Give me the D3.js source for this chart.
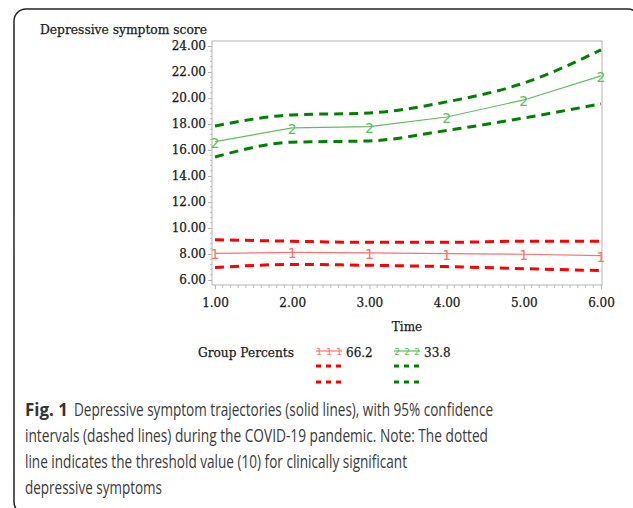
<!DOCTYPE html>
<html>
<head>
<meta charset="utf-8">
<script src="https://cdn.jsdelivr.net/npm/d3@7"></script>
<style>
  html, body { margin: 0; padding: 0; background: #fff; }
  svg { display: block; }
</style>
</head>
<body>
<svg id="chart" width="633" height="508"></svg>
<script>
// ---- Data ----
const time = [1, 2, 3, 4, 5, 6];
const xTicks = [1, 2, 3, 4, 5, 6];
const yTicks = [6, 8, 10, 12, 14, 16, 18, 20, 22, 24];
const group1 = [8.05, 8.13, 8.08, 8.03, 7.98, 7.87];
const group1Upper = [9.1, 8.98, 8.9, 8.9, 8.98, 8.98];
const group1Lower = [6.95, 7.2, 7.13, 7.03, 6.87, 6.72];
const group2 = [16.64, 17.7, 17.8, 18.54, 19.85, 21.7];
const group2Upper = [17.85, 18.7, 18.85, 19.7, 21.15, 23.7];
const group2Lower = [15.46, 16.6, 16.7, 17.5, 18.46, 19.55];
const groupLabels = ["1", "2"];
const groupPercents = ["66.2", "33.8"];
const yTitle = "Depressive symptom score";
const xTitle = "Time";
const legendTitle = "Group Percents";
const captionBold = "Fig. 1";
const captionLines = [
  "Depressive symptom trajectories (solid lines), with 95% confidence",
  "intervals (dashed lines) during the COVID-19 pandemic. Note: The dotted",
  "line indicates the threshold value (10) for clinically significant",
  "depressive symptoms"
];

const svg = d3.select("#chart");
const serif = "'DejaVu Serif', 'Liberation Serif', serif";
const sans = "'Open Sans', 'Noto Sans', sans-serif";
const ink = "#1a1a1a";

// Outer frame
svg.append("rect")
  .attr("x", 14).attr("y", 9).attr("width", 626).attr("height", 505)
  .attr("rx", 12).attr("ry", 12)
  .attr("fill", "none").attr("stroke", "#222").attr("stroke-width", 1.5);

// Scales
const x = d3.scaleLinear().domain([1, 6]).range([215, 601]);
const y = d3.scaleLinear().domain([6, 24]).range([280, 46]);

const axisColor = "#b4b4b4";

function serifText(sel, size) {
  return sel.attr("font-family", serif).attr("font-size", size || 12)
    .attr("fill", ink).attr("stroke", ink).attr("stroke-width", 0.25);
}

// Plot frame
const fx0 = 212, fx1 = 602, fy0 = 41, fy1 = 285;
svg.append("rect")
  .attr("x", fx0).attr("y", fy0).attr("width", fx1 - fx0).attr("height", fy1 - fy0)
  .attr("fill", "none").attr("stroke", axisColor).attr("stroke-width", 1);

// Y axis
const yAxis = d3.axisLeft(y).tickValues(yTicks).tickFormat(d3.format(".2f")).tickSize(4).tickPadding(2);
const gy = svg.append("g").attr("transform", `translate(${fx0},0)`).call(yAxis);
gy.select(".domain").remove();
gy.selectAll(".tick line").attr("stroke", axisColor);
serifText(gy.selectAll(".tick text"), 12);
// minor y ticks
const yMinor = d3.range(6, 24.001, 0.4).filter(v => Math.abs(v / 2 - Math.round(v / 2)) > 1e-6);
svg.append("g").selectAll("line").data(yMinor).join("line")
  .attr("x1", fx0 - 2).attr("x2", fx0).attr("y1", d => y(d)).attr("y2", d => y(d))
  .attr("stroke", axisColor).attr("stroke-width", 0.8);

// X axis
const xAxis = d3.axisBottom(x).tickValues(xTicks).tickFormat(d3.format(".2f")).tickSize(4).tickPadding(9);
const gx = svg.append("g").attr("transform", `translate(0,${fy1})`).call(xAxis);
gx.select(".domain").remove();
gx.selectAll(".tick line").attr("stroke", axisColor);
serifText(gx.selectAll(".tick text"), 12);
const xMinor = d3.range(1, 6.001, 0.1).filter(v => Math.abs(v - Math.round(v)) > 1e-6);
svg.append("g").selectAll("line").data(xMinor).join("line")
  .attr("x1", d => x(d)).attr("x2", d => x(d)).attr("y1", fy1).attr("y2", fy1 + 3)
  .attr("stroke", axisColor).attr("stroke-width", 0.8);

// Titles
serifText(svg.append("text").attr("x", 40).attr("y", 34).text(yTitle), 12)
  .attr("textLength", 167).attr("lengthAdjust", "spacingAndGlyphs");
serifText(svg.append("text").attr("x", 407).attr("y", 331).attr("text-anchor", "middle").text(xTitle), 12);

// Lines
const line = d3.line().x((d, i) => x(time[i])).y(d => y(d));
const dashLine = d3.line().x((d, i) => x(time[i])).y(d => y(d)).curve(d3.curveMonotoneX);

const red = "#ff0000", redLight = "#ff6f6f";
const green = "#008000", greenLight = "#5cbf5c";

function dashed(data, color) {
  svg.append("path").attr("d", dashLine(data)).attr("fill", "none")
    .attr("stroke", color).attr("stroke-width", 3).attr("stroke-dasharray", "9,6");
}
dashed(group1Upper, red);
dashed(group1Lower, red);
dashed(group2Upper, green);
dashed(group2Lower, green);

svg.append("path").attr("d", line(group1)).attr("fill", "none").attr("stroke", redLight).attr("stroke-width", 1.2);
svg.append("path").attr("d", line(group2)).attr("fill", "none").attr("stroke", greenLight).attr("stroke-width", 1.2);

// Point labels
function marks(data, label, color) {
  svg.append("g").selectAll("text").data(data).join("text")
    .attr("x", (d, i) => x(time[i])).attr("y", d => y(d) + 6)
    .attr("text-anchor", "middle").text(label)
    .attr("font-family", "'DejaVu Sans', sans-serif").attr("font-size", 14)
    .attr("fill", color);
}
marks(group1, groupLabels[0], redLight);
marks(group2, groupLabels[1], greenLight);

// Legend
serifText(svg.append("text").attr("x", 198).attr("y", 357).text(legendTitle), 12)
  .attr("textLength", 96).attr("lengthAdjust", "spacingAndGlyphs");
const legendItems = [
  { x0: 316, label: groupLabels[0], pct: groupPercents[0], solid: redLight, dash: red },
  { x0: 394, label: groupLabels[1], pct: groupPercents[1], solid: greenLight, dash: green }
];
legendItems.forEach(it => {
  const g = svg.append("g");
  g.append("line").attr("x1", it.x0).attr("x2", it.x0 + 26).attr("y1", 351).attr("y2", 351)
    .attr("stroke", it.solid).attr("stroke-width", 1.2);
  [3, 13, 23].forEach(dx => {
    g.append("text").attr("x", it.x0 + dx).attr("y", 355).attr("text-anchor", "middle")
      .text(it.label).attr("font-family", "'DejaVu Sans', sans-serif").attr("font-size", 9)
      .attr("fill", it.solid);
  });
  serifText(g.append("text").attr("x", it.x0 + 30).attr("y", 357).text(it.pct), 12);
  [366, 382].forEach(yy => {
    g.append("line").attr("x1", it.x0).attr("x2", it.x0 + 25).attr("y1", yy).attr("y2", yy)
      .attr("stroke", it.dash).attr("stroke-width", 3).attr("stroke-dasharray", "5,5");
  });
});

// Caption
svg.append("text").attr("x", 25).attr("y", 416).text(captionBold)
  .attr("font-family", sans).attr("font-size", 18).attr("font-weight", "bold").attr("fill", "#333")
  .attr("textLength", 43).attr("lengthAdjust", "spacingAndGlyphs");
const capWidths = [419, 463, 382, 137];
const capX = [74, 25, 25, 25];
captionLines.forEach((t, i) => {
  svg.append("text").attr("x", capX[i]).attr("y", 416 + i * 26).text(t)
    .attr("font-family", sans).attr("font-size", 18).attr("fill", "#3a3a3a")
    .attr("textLength", capWidths[i]).attr("lengthAdjust", "spacingAndGlyphs");
});
</script>
</body>
</html>
